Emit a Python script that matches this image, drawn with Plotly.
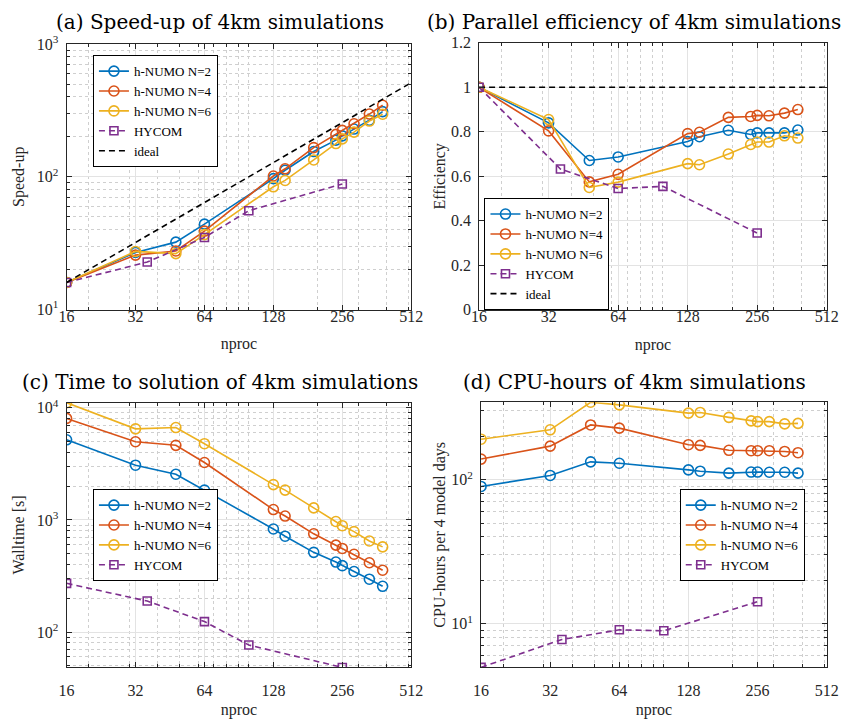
import math
import plotly.graph_objects as go

# ---------------- data ----------------
nproc = [16, 32, 48, 64, 128, 144, 192, 240, 256, 288, 336, 384]
nproc_hycom = [16, 36, 64, 100, 256]
nproc_ideal = [16, 512]

speedup_n2 = [16, 26.9, 32.2, 44.0, 96.8, 112.0, 155.0, 189.0, 203.5, 229.0, 267.0, 310.0]
speedup_n4 = [16, 25.7, 27.6, 39.0, 101.4, 114.9, 166.0, 208.6, 223.7, 251.0, 297.0, 346.0]
speedup_n6 = [16, 27.4, 26.4, 36.7, 84.1, 93.9, 134.0, 178.0, 193.0, 217.0, 263.0, 296.0]
speedup_hycom = [16, 22.8, 34.9, 55.5, 88.3]
speedup_ideal = [16, 512]

eff_n2 = [1.0, 0.840, 0.671, 0.687, 0.756, 0.778, 0.807, 0.788, 0.795, 0.795, 0.795, 0.808]
eff_n4 = [1.0, 0.804, 0.575, 0.609, 0.792, 0.798, 0.865, 0.869, 0.874, 0.872, 0.884, 0.900]
eff_n6 = [1.0, 0.855, 0.550, 0.574, 0.657, 0.652, 0.700, 0.743, 0.754, 0.754, 0.782, 0.772]
eff_hycom = [1.0, 0.633, 0.545, 0.555, 0.345]
eff_ideal = [1.0, 1.0]

wall_n2 = [5180, 3077, 2555, 1845, 830, 716, 514, 421, 391, 347, 296, 256]
wall_n4 = [8040, 4980, 4625, 3250, 1237, 1083, 752, 596, 557, 494, 415, 356]
wall_n6 = [11100, 6490, 6660, 4780, 2066, 1845, 1280, 968, 888, 787, 649, 575]
wall_hycom = [272, 189, 124, 76.6, 48.4]

cpu_n2 = [89.7, 107, 133, 130, 117, 114.5, 111, 113, 113, 112.6, 112.6, 111]
cpu_n4 = [139, 171, 240, 228, 175, 173, 160, 159, 159, 159, 157, 154]
cpu_n6 = [191, 222, 345, 331, 290, 293, 271, 256, 253, 253, 244, 246]
cpu_hycom = [4.97, 7.76, 9.06, 8.92, 14.2]

x_ticks = [16, 32, 64, 128, 256, 512]
x_minor = [20, 30, 40, 50, 60, 70, 80, 90, 100, 200, 300, 400, 500]

series_names = ["h-NUMO N=2", "h-NUMO N=4", "h-NUMO N=6", "HYCOM", "ideal"]
colors = ["#0072BD", "#D95319", "#EDB120", "#7E2F8E", "#000000"]

W, H = 847, 726
SERIF = "Liberation Serif"
TITLE_FONT = "DejaVu Serif"
AXCOL = "#262626"


def px(x):
    return x / W


def py(y):
    return 1 - y / H


fig = go.Figure()

panels = [
    dict(n="", xd=(60, 413), yd=(34, 307)),
    dict(n="2", xd=(482.5, 838.5), yd=(32.7, 307.3)),
    dict(n="3", xd=(60, 413), yd=(402.7, 675)),
    dict(n="4", xd=(484.5, 838.5), yd=(402.3, 675)),
]
legends = ["legend", "legend2", "legend3", "legend4"]


def add_series(i, ys, hy, ideal=None):
    p = panels[i]
    xa = "x" + p["n"]
    ya = "y" + p["n"]
    lg = legends[i]
    for k, y in enumerate(ys):
        fig.add_trace(go.Scatter(
            x=nproc, y=y, name=series_names[k], mode="lines+markers",
            xaxis=xa, yaxis=ya, legend=lg,
            line=dict(color=colors[k], width=1.6),
            marker=dict(symbol="circle-open", size=10, color=colors[k],
                        line=dict(width=1.6, color=colors[k])),
        ))
    fig.add_trace(go.Scatter(
        x=nproc_hycom, y=hy, name=series_names[3], mode="lines+markers",
        xaxis=xa, yaxis=ya, legend=lg,
        line=dict(color=colors[3], width=1.6, dash="6px,4px"),
        marker=dict(symbol="square-open", size=8, color=colors[3],
                    line=dict(width=1.6, color=colors[3])),
    ))
    if ideal is not None:
        fig.add_trace(go.Scatter(
            x=nproc_ideal, y=ideal, name=series_names[4], mode="lines",
            xaxis=xa, yaxis=ya, legend=lg,
            line=dict(color=colors[4], width=1.6, dash="6px,4px"),
        ))


add_series(0, [speedup_n2, speedup_n4, speedup_n6], speedup_hycom, speedup_ideal)
add_series(1, [eff_n2, eff_n4, eff_n6], eff_hycom, eff_ideal)
add_series(2, [wall_n2, wall_n4, wall_n6], wall_hycom)
add_series(3, [cpu_n2, cpu_n4, cpu_n6], cpu_hycom)


def sup_text(vals):
    return ["10<sup>%d</sup>" % round(math.log10(v)) for v in vals]


common_axis = dict(
    showline=True, linecolor=AXCOL, linewidth=1, mirror="allticks",
    ticks="inside", ticklen=5, tickcolor=AXCOL,
    showgrid=True, gridcolor="#e3e3e3", gridwidth=1,
    zeroline=False,
    tickfont=dict(family=SERIF, size=16, color=AXCOL),
)
minor_common = dict(ticks="inside", ticklen=3, tickcolor=AXCOL,
                    showgrid=True, gridcolor="#cfcfcf", griddash="dot", gridwidth=1)

yinfo = [
    dict(type="log", range=[1, 3], tickvals=[10, 100, 1000],
         minor=[20, 30, 40, 50, 60, 70, 80, 90, 200, 300, 400, 500, 600, 700, 800, 900],
         title="Speed-up"),
    dict(type="linear", range=[0, 1.2], tickvals=[0, 0.2, 0.4, 0.6, 0.8, 1.0, 1.2],
         ticktext=["0", "0.2", "0.4", "0.6", "0.8", "1", "1.2"], minor=None,
         title="Efficiency"),
    dict(type="log", range=[1.685, 4.046], tickvals=[100, 1000, 10000],
         minor=[50, 60, 70, 80, 90, 200, 300, 400, 500, 600, 700, 800, 900,
                2000, 3000, 4000, 5000, 6000, 7000, 8000, 9000],
         title="Walltime [s]"),
    dict(type="log", range=[0.696, 2.538], tickvals=[10, 100],
         minor=[5, 6, 7, 8, 9, 20, 30, 40, 50, 60, 70, 80, 90, 200, 300],
         title="CPU-hours per 4 model days"),
]

xstand = [-8, -8, 8, 8]
xtitle_stand = [14, 14, 6, 6]
ytitle_stand = [8, 1, 8, 1]
layout = dict(
    width=W, height=H, margin=dict(l=0, r=0, t=0, b=0),
    paper_bgcolor="white", plot_bgcolor="white",
    font=dict(family=SERIF, size=13, color="black"),
)
for i, p in enumerate(panels):
    xa = dict(common_axis)
    xa.update(type="log", range=[math.log10(16), math.log10(512)],
              domain=[px(p["xd"][0]), px(p["xd"][1])],
              anchor="y" + p["n"], tickmode="array", tickvals=x_ticks,
              ticktext=[str(v) for v in x_ticks],
              ticklabelstandoff=xstand[i],
              title=dict(text="nproc", standoff=xtitle_stand[i],
                         font=dict(family=SERIF, size=16, color=AXCOL)),
              minor=dict(minor_common, tickmode="array", tickvals=x_minor))
    yi = yinfo[i]
    if "ticktext" in yi:
        ytext = yi["ticktext"]
    else:
        ytext = sup_text(yi["tickvals"])
    ya = dict(common_axis)
    ya.update(type=yi["type"], range=yi["range"],
              domain=[py(p["yd"][1]), py(p["yd"][0])],
              anchor="x" + p["n"], tickmode="array", tickvals=yi["tickvals"],
              ticktext=ytext,
              ticklabelstandoff=4,
              title=dict(text=yi["title"], standoff=ytitle_stand[i],
                         font=dict(family=SERIF, size=16, color=AXCOL)))
    if yi["minor"]:
        ya["minor"] = dict(minor_common, tickmode="array", tickvals=yi["minor"])
    layout["xaxis" + p["n"]] = xa
    layout["yaxis" + p["n"]] = ya

leg_common = dict(
    bgcolor="white", bordercolor="black", borderwidth=1,
    font=dict(family=SERIF, size=13, color="black"),
    xanchor="left", yanchor="middle", tracegroupgap=0, itemwidth=30,
)
leg_pos = [(87, 103), (488, 250), (87, 539), (688, 539)]
for i, (lx, ly) in enumerate(leg_pos):
    layout[legends[i]] = dict(leg_common, x=px(lx), y=py(ly))

titles = [
    ("(a) Speed-up of 4km simulations", 217, 11),
    ("(b) Parallel efficiency of 4km simulations", 641.5, 11),
    ("(c) Time to solution of 4km simulations", 217, 381),
    ("(d) CPU-hours of 4km simulations", 642, 381),
]
layout["annotations"] = [
    dict(text=t, x=px(x), y=py(y), xref="paper", yref="paper",
         xanchor="center", yanchor="middle", showarrow=False,
         font=dict(family=TITLE_FONT, size=20, color="black"))
    for t, x, y in titles
]
fig.update_layout(**layout)
fig.write_html("out.html")
